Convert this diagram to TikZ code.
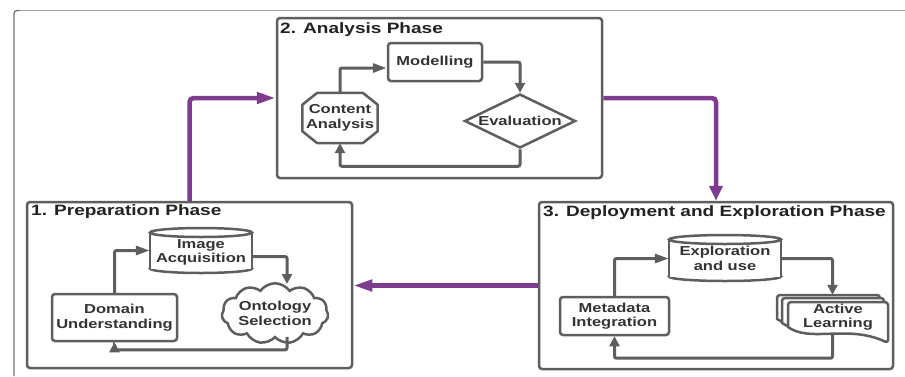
\documentclass[tikz,border=0pt]{standalone}
\usepackage{fontspec}
\newfontfamily\df{Liberation Sans}[FakeStretch=1.27]
\usetikzlibrary{arrows.meta,shapes.geometric,shapes.symbols,calc}
\definecolor{lg}{HTML}{5E5E5E}
\definecolor{pur}{RGB}{126,60,142}
\definecolor{tx}{HTML}{333333}
\definecolor{tt}{HTML}{222222}
\tikzset{
 shp/.style={draw=lg, line width=2.5pt},
 lbl/.style={font=\df\bfseries\fontsize{13}{14.5}\selectfont, text=tx, align=center, inner sep=0pt},
 box/.style={shp, lbl, rounded corners=3pt, fill=white},
 phase/.style={draw=lg, line width=2.5pt, rounded corners=3pt, inner sep=0pt},
 ttl/.style={font=\df\bfseries\fontsize{15}{18}\selectfont, text=tt, anchor=base west, inner sep=0pt},
 conn/.style={draw=lg, line width=3pt, rounded corners=2pt},
 ah/.style={-{Triangle[length=14pt,width=9pt]}},
 av/.style={-{Triangle[length=10pt,width=10pt]}},
 pconn/.style={draw=pur, line width=4.5pt, rounded corners=4pt},
 ph/.style={-{Triangle[length=19pt,width=11pt]}},
 pv/.style={-{Triangle[length=15pt,width=13pt]}},
}
\begin{document}
\begin{tikzpicture}[x=1pt,y=-1pt]
\useasboundingbox (0,0) rectangle (905,376);
% outer frame
\draw[line width=1.3pt, color=black!35] (17,10.5) -- (905,10.5);
\draw[line width=1.3pt, color=black!55, rounded corners=3pt] (14,376) -- (14,10.5) -- (20,10.5);

% phase boxes
\node[phase, minimum width=325pt, minimum height=160pt] (anal) at (439.5,98) {};
\node[phase, minimum width=325pt, minimum height=166pt] (prep) at (189.5,285) {};
\node[phase, minimum width=354pt, minimum height=167pt] (depl) at (716,285.5) {};
\node[ttl] (t2) at (280,33) {2. Analysis Phase};
\node[ttl] (t1) at (31,215) {1. Preparation Phase};
\node[ttl] (t3) at (543,216) {3. Deployment and Exploration Phase};

% ---------- Analysis phase
\node[box, minimum width=94pt, minimum height=38pt] (mod) at (435,62) {Modelling};
\node[lbl, minimum width=75pt, minimum height=50pt] (ca) at (340,118) {Content\\Analysis};
\draw[shp, line join=round] ($(ca.north west)+(15,0)$) -- ($(ca.north east)+(-15,0)$) -- ($(ca.north east)+(0,12)$) -- ($(ca.south east)+(0,-12)$) -- ($(ca.south east)+(-15,0)$) -- ($(ca.south west)+(15,0)$) -- ($(ca.south west)+(0,-12)$) -- ($(ca.north west)+(0,12)$) -- cycle;
\node[shp, lbl, diamond, aspect=2, fill=white, minimum width=111pt, minimum height=54pt] (ev) at (520,121) {Evaluation};
\draw[conn, ah] (ca.north) |- ($(mod.west)+(0,6)$);
\draw[conn, av] (mod.east) -| (ev.north);
\draw[conn, av] (ev.south) -- ++(0,17) -| (ca.south);

% ---------- Preparation phase
\draw[shp, fill=white] (201,268.5) ellipse [x radius=51, y radius=4.5];
\fill[white] (150,232.5) rectangle (252,268.5);
\draw[shp] (150,232.5) -- (150,268.5);
\draw[shp] (252,232.5) -- (252,268.5);
\draw[shp, fill=white] (201,232.5) ellipse [x radius=51, y radius=4.5];
\node[lbl, minimum width=102pt, minimum height=45pt] (ia) at (201,252.5) {Image\\Acquisition};
\node[box, minimum width=125pt, minimum height=47pt] (dom) at (114.5,317.5) {Domain\\Understanding};
\node[shp, lbl, cloud, cloud puffs=11, cloud puff arc=110, aspect=2.2, fill=white, minimum width=102pt, minimum height=47pt] (onto) at (275,313.5) {Ontology\\Selection};
\draw[conn, ah] (dom.north) |- ($(ia.west)+(0,-2)$);
\draw[conn, av] ($(ia.east)+(0,4)$) -| ($(onto.north)+(12,2)$);
\draw[conn, av] ($(onto.south)+(12,-2)$) -- ++(0,13) -| (dom.south);

% ---------- Deployment phase
\draw[shp, fill=white] (725,276.5) ellipse [x radius=56, y radius=4.5];
\fill[white] (669,239.5) rectangle (781,276.5);
\draw[shp] (669,239.5) -- (669,276.5);
\draw[shp] (781,239.5) -- (781,276.5);
\draw[shp, fill=white] (725,239.5) ellipse [x radius=56, y radius=4.5];
\node[lbl, minimum width=112pt, minimum height=46pt] (eu) at (725,258.5) {Exploration\\and use};
\node[box, minimum width=109pt, minimum height=38pt] (meta) at (614.5,316) {Metadata\\Integration};
% multi-document
\draw[shp, fill=white, line join=round] (880,335) .. controls (840,316) and (800,335) .. (777,319) [rounded corners=3pt] -- (777,295) -- (880,295) -- cycle;
\draw[shp, fill=white, line join=round] (884,339) .. controls (844,320) and (805,339) .. (782,323) [rounded corners=3pt] -- (782,298) -- (884,298) -- cycle;
\draw[shp, fill=white, line join=round] (888,343) .. controls (848,324) and (810,343) .. (788,327) [rounded corners=3pt] -- (788,302) -- (888,302) -- cycle;
\node[minimum width=111pt, minimum height=48pt, inner sep=0pt] (alb) at (832.5,319) {};
\node[lbl] (al) at (838,317) {Active\\Learning};
\draw[conn, ah] (meta.north) |- (eu.west);
\draw[conn, av] (eu.east) -| (alb.north);
\draw[conn, av] ($(alb.south)+(0,-9)$) -- ++(0,24) -| (meta.south);

% ---------- phase connectors
\draw[pconn, ph] (prep.north) |- (anal.west);
\draw[pconn, pv] (anal.east) -| (depl.north);
\draw[pconn, ph] (depl.west) -- (depl.west -| prep.east);
\end{tikzpicture}
\end{document}
